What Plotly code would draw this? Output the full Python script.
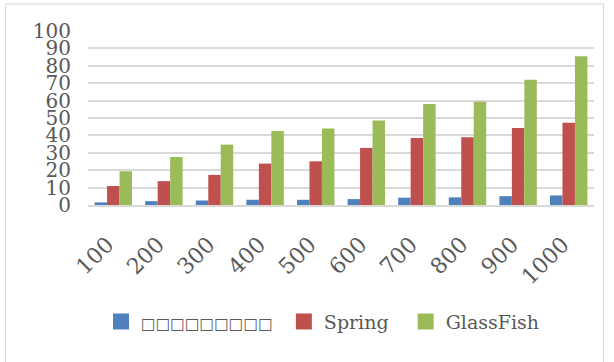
import plotly.graph_objects as go

categories = ["100", "200", "300", "400", "500", "600", "700", "800", "900", "1000"]
series_names = ["□□□□□□□□□", "Spring", "GlassFish"]
blue_vals = [1.5, 2.2, 2.6, 3.0, 3.0, 3.4, 4.2, 4.4, 5.1, 5.5]
spring_vals = [10.9, 13.7, 17.3, 23.8, 25.1, 32.8, 38.5, 38.9, 44.2, 47.2]
glass_vals = [19.4, 27.6, 34.7, 42.5, 44.0, 48.6, 58.1, 59.4, 72.0, 85.5]
colors = ["#4F81BD", "#C0504D", "#9BBB59"]
y_ticks = [0, 10, 20, 30, 40, 50, 60, 70, 80, 90, 100]

W, H = 614, 362
L, R, T, B = 88, 20, 30.5, 157
pw, ph = W - L - R, H - T - B

def px(x):
    return (x - L) / pw

def py(y):
    return (H - B - y) / ph

fig = go.Figure()
for name, vals, c in zip(series_names, [blue_vals, spring_vals, glass_vals], colors):
    fig.add_trace(go.Bar(x=categories, y=vals, name=name, marker_color=c,
                         marker_line_width=0, showlegend=False))

# legend entries (larger square swatches)
legend_labels = [
    '<span style="font-size:15.5px">' + series_names[0] + '</span>\u00a0',
    series_names[1] + '\u00a0\u00a0',
    series_names[2],
]
for label, c in zip(legend_labels, colors):
    fig.add_trace(go.Scatter(x=[None], y=[None], mode="markers", name=label,
                             marker=dict(symbol="square", size=16, color=c)))

font_family = "DejaVu Serif"
gray = "#595959"

fig.update_layout(
    width=W, height=H,
    margin=dict(l=L, r=R, t=T, b=B, pad=0),
    paper_bgcolor="white", plot_bgcolor="white",
    barmode="group", bargap=0.26, bargroupgap=0,
    font=dict(family=font_family, color=gray, size=20),
    showlegend=True,
    legend=dict(orientation="h", x=px(101), xanchor="left", y=py(322), yanchor="middle",
                font=dict(family=font_family, size=19, color=gray),
                itemsizing="trace", bgcolor="rgba(0,0,0,0)", tracegroupgap=0),
    xaxis=dict(type="category", tickangle=-45, showgrid=False, showline=True,
               linecolor="#d9d9d9", linewidth=2, ticks="", ticklabelstandoff=16,
               ticklabelshift=-6,
               tickfont=dict(family=font_family, size=22, color=gray)),
    yaxis=dict(range=[0, 100], tickvals=y_ticks, showgrid=True, gridcolor="#d9d9d9",
               gridwidth=1.5, zeroline=False, showline=False, ticks="",
               ticklabelstandoff=16,
               tickfont=dict(family=font_family, size=20, color=gray)),
    shapes=[dict(type="rect", xref="paper", yref="paper",
                 x0=px(5.5), x1=px(603.5), y0=py(380), y1=py(3.5),
                 line=dict(color="#d9d9d9", width=1), fillcolor="rgba(0,0,0,0)",
                 layer="below")],
)

fig.write_html("out.html")
